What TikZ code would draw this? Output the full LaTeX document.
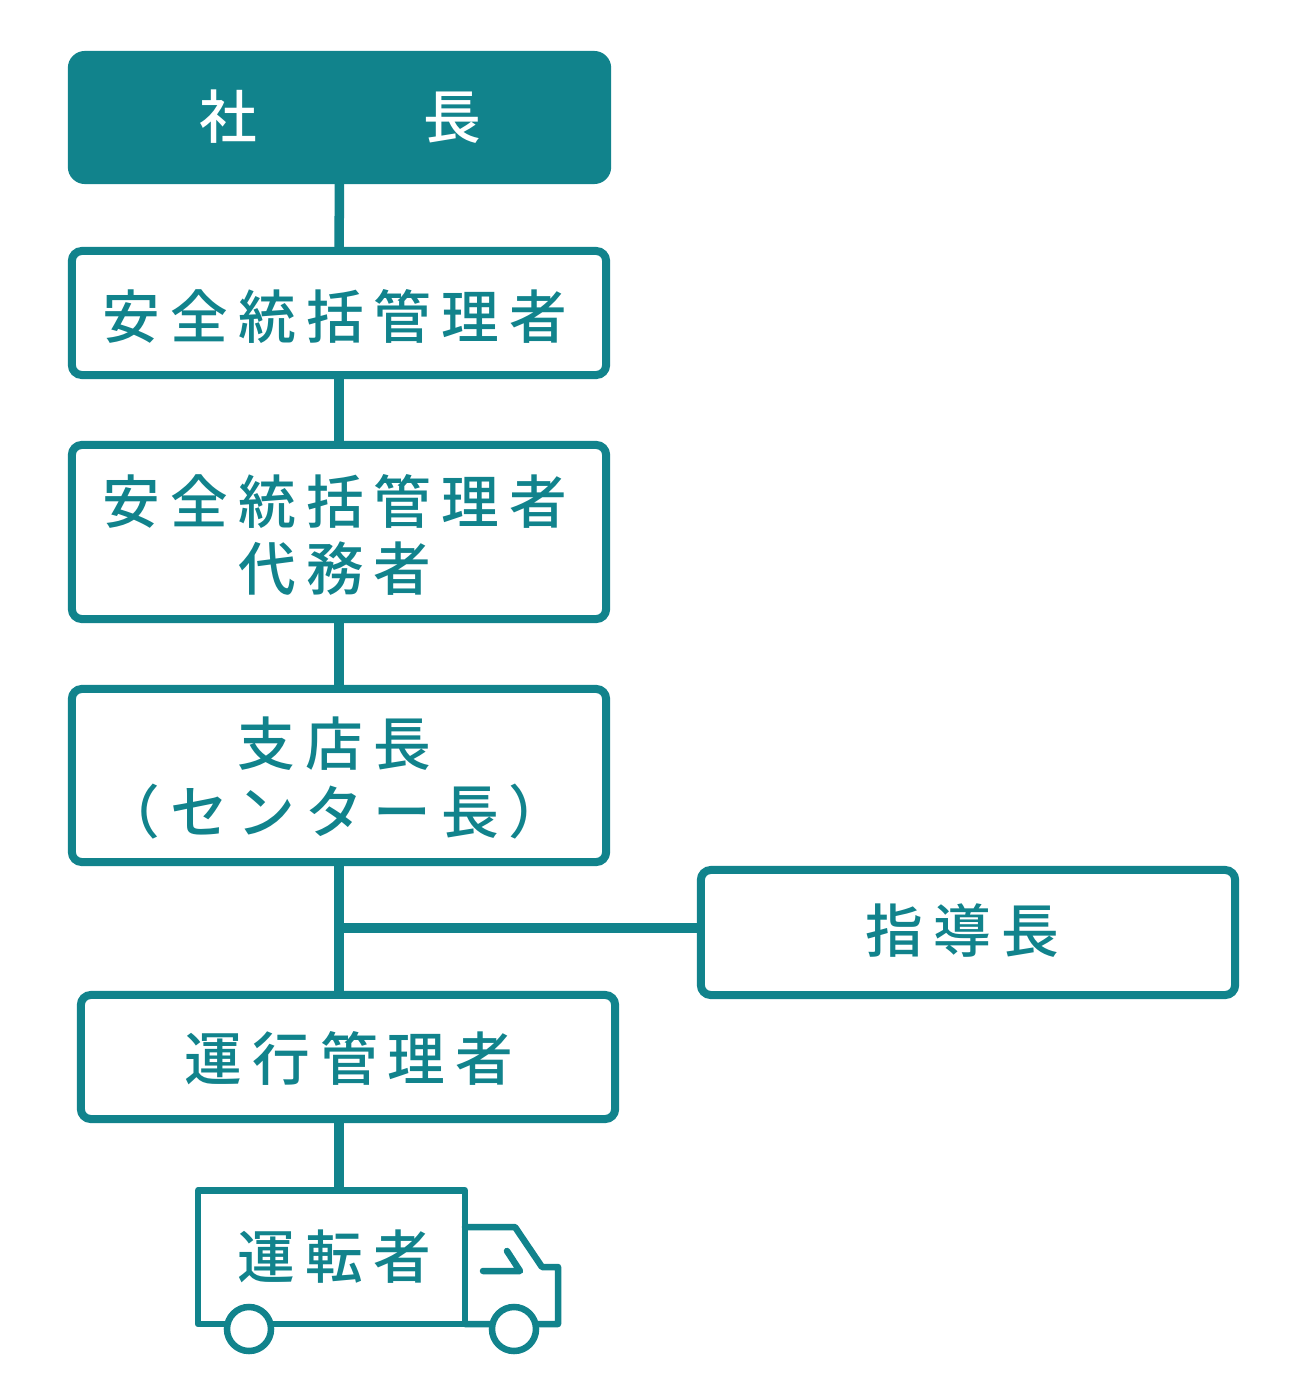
\documentclass[tikz,border=0pt]{standalone}
\usepackage{fontspec}
\setmainfont{Noto Sans CJK JP Medium}[LetterSpace=17.5]
\usepackage{tikz}

\definecolor{teal1}{HTML}{11838C}
\tikzset{
  post/.style={draw=teal1,line width=0.08cm,rounded corners=0.1cm,fill=white,
    minimum width=5.34cm,inner sep=0pt},
  lbl/.style={text=teal1,align=center,inner sep=0pt,
    font=\fontsize{16.4}{19.3}\selectfont},
  link/.style={draw=teal1,line width=0.095cm},
  truckline/.style={draw=teal1,line width=0.065cm,line join=round,line cap=round},
  wheel/.style={circle,draw=teal1,fill=white,line width=0.065cm,minimum size=0.44cm,inner sep=0pt}
}

\begin{document}
\begin{tikzpicture}[x=0.01cm,y=-0.01cm]
\useasboundingbox (0,0) rectangle (1294,1394);

\node (A) [post,fill=teal1,minimum width=5.39cm,minimum height=1.29cm,line width=0.04cm,rounded corners=0.15cm] at (339.5,117.5) {};
\node (B) [post,minimum height=1.24cm] at (339,313) {};
\node (C) [post,minimum height=1.74cm] at (339,532) {};
\node (D) [post,minimum height=1.73cm] at (339,775.5) {};
\node (E) [post,minimum height=1.25cm] at (968,932.5) {};
\node (F) [post,minimum height=1.24cm] at (348,1057) {};

\node (a) [lbl,text=white] at (340.5,116.5) {社\hspace{1.66cm}長};
\node (b) [lbl] at (335,316) {安全統括管理者};
\node (c) [lbl] at (335,535) {安全統括管理者\\代務者};
\node (d) [lbl] at (334.5,778) {支店長\\（センター長）};
\node (e) [lbl] at (962.5,930.5) {指導長};
\node (f) [lbl] at (349,1058) {運行管理者};

% the truck
\coordinate (T) at (339,1190.5);
\coordinate (J) at (339,928);

\draw [link] (A) -- (B);
\draw [link] (B) -- (C);
\draw [link] (C) -- (D);
\draw [link] (D.south) -- (D.south |- F.north);
\draw [link] (J) -- (J -| E.west);
\draw [link] (F.south -| T) -- (T);

\draw [truckline] (198,1190.5) rectangle (465,1324);
\draw [truckline] (465,1227) -- (515,1227) -- (542,1267) -- (558,1267) -- (558,1324) -- (465,1324);
\draw [truckline] (483,1271) -- (520,1271) -- (507,1251);
\node (G) [wheel] at (249,1329) {};
\node (H) [wheel] at (514,1329) {};
\node (g) [lbl] at (334.5,1257) {運転者};
\end{tikzpicture}
\end{document}
